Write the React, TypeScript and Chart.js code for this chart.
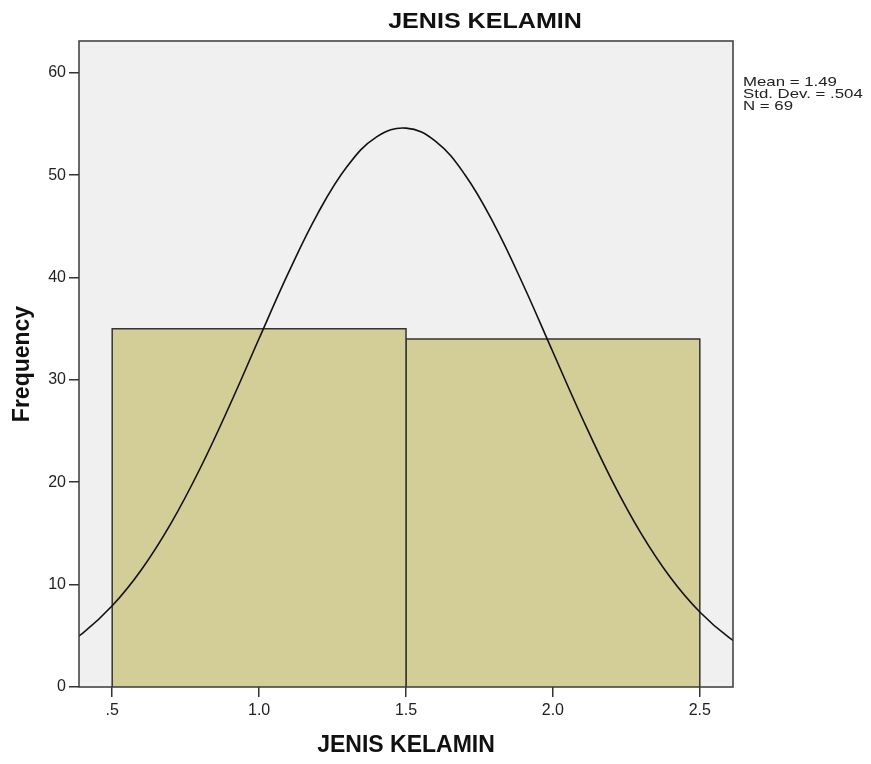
import React, { useEffect, useRef } from "react";
import { Chart, registerables } from "chart.js";

Chart.register(...registerables);

// ---- data ----
const binEdges = [0.5, 1.5, 2.5];
const binCounts = [35, 34];
const xTickValues = [0.5, 1.0, 1.5, 2.0, 2.5];
const xTickLabels = [".5", "1.0", "1.5", "2.0", "2.5"];
const yTickValues = [0, 10, 20, 30, 40, 50, 60];
const curveX = [0.3, 0.4, 0.5, 0.6, 0.7, 0.8, 0.9, 1.0, 1.1, 1.2, 1.3, 1.4, 1.5, 1.6, 1.7, 1.8, 1.9, 2.0, 2.1, 2.2, 2.3, 2.4, 2.5, 2.6, 2.7];
const curveY = [3.36, 5.27, 7.93, 11.48, 15.98, 21.39, 27.52, 34.04, 40.47, 46.27, 50.86, 53.74, 54.59, 53.31, 50.06, 45.19, 39.22, 32.72, 26.25, 20.24, 15.01, 10.7, 7.33, 4.83, 3.06];
const titleText = "JENIS KELAMIN";
const xTitle = "JENIS KELAMIN";
const yTitle = "Frequency";
const statsLines = ["Mean = 1.49", "Std. Dev. = .504", "N = 69"];

const FONT = "'Liberation Sans', Arial, sans-serif";

const decorPlugin = {
  id: "decor",
  beforeDatasetsDraw(chart: any) {
    const { ctx, chartArea: a } = chart;
    ctx.save();
    ctx.fillStyle = "#f0f0f0";
    ctx.fillRect(a.left, a.top, a.right - a.left, a.bottom - a.top);
    ctx.restore();
  },
  afterDraw(chart: any) {
    const { ctx, chartArea: a } = chart;
    ctx.save();
    ctx.strokeStyle = "#3a3a3a";
    ctx.lineWidth = 1.5;
    ctx.strokeRect(a.left, a.top, a.right - a.left, a.bottom - a.top);

    // title
    ctx.fillStyle = "#111";
    ctx.font = `bold 22px ${FONT}`;
    ctx.textBaseline = "alphabetic";
    ctx.textAlign = "center";
    ctx.save();
    ctx.translate(485, 28);
    ctx.scale(1.14, 1);
    ctx.fillText(titleText, 0, 0);
    ctx.restore();

    // stats
    ctx.fillStyle = "#222";
    ctx.font = `13.5px ${FONT}`;
    ctx.textAlign = "left";
    statsLines.forEach((t, i) => {
      ctx.save();
      ctx.translate(743, 85.5 + i * 12);
      ctx.scale(1.245, 1);
      ctx.fillText(t, 0, 0);
      ctx.restore();
    });
    ctx.restore();
  },
};

export default function App() {
  const ref = useRef<HTMLCanvasElement>(null);
  useEffect(() => {
    if (!ref.current) return;
    const barSets = binCounts.map((c, i) => ({
      type: "line" as const,
      data: [
        { x: binEdges[i], y: 0 },
        { x: binEdges[i], y: c },
        { x: binEdges[i + 1], y: c },
        { x: binEdges[i + 1], y: 0 },
      ],
      borderColor: "#333",
      borderWidth: 1.5,
      backgroundColor: "#d3ce98",
      fill: "origin",
      tension: 0,
      pointRadius: 0,
    }));
    const chart = new Chart(ref.current, {
      type: "line",
      data: {
        datasets: [
          {
            data: curveX.map((x, i) => ({ x, y: curveY[i] })),
            borderColor: "#111",
            borderWidth: 1.6,
            fill: false,
            tension: 0.4,
            pointRadius: 0,
          } as any,
          ...barSets,
        ],
      },
      options: {
        animation: false,
        responsive: false,
        layout: { padding: { top: 41, right: 138, left: 0, bottom: 0 } },
        plugins: { legend: { display: false }, tooltip: { enabled: false }, title: { display: false } },
        scales: {
          x: {
            type: "linear",
            min: 0.387,
            max: 2.613,
            afterBuildTicks: (s: any) => {
              s.ticks = xTickValues.map((v) => ({ value: v }));
            },
            afterFit: (s: any) => {
              s.height = 77;
            },
            ticks: {
              callback: (_v: any, i: number) => xTickLabels[i],
              color: "#222",
              font: { family: FONT, size: 16 },
              padding: 4,
              maxRotation: 0,
              autoSkip: false,
            },
            grid: { drawOnChartArea: false, tickLength: 10, color: "#333", lineWidth: 1.5 },
            border: { display: false },
            title: {
              display: true,
              text: xTitle,
              color: "#111",
              font: { family: FONT, size: 23, weight: "bold" },
              padding: { top: 0, bottom: 5 },
            },
          },
          y: {
            type: "linear",
            min: 0,
            max: 63.1,
            afterBuildTicks: (s: any) => {
              s.ticks = yTickValues.map((v) => ({ value: v }));
            },
            afterFit: (s: any) => {
              s.width = 79;
            },
            ticks: {
              color: "#222",
              font: { family: FONT, size: 16 },
              padding: 3,
              autoSkip: false,
            },
            grid: { drawOnChartArea: false, tickLength: 10, color: "#333", lineWidth: 1.5 },
            border: { display: false },
            title: {
              display: true,
              text: yTitle,
              color: "#111",
              font: { family: FONT, size: 23, weight: "bold" },
              padding: { top: 9, bottom: 0 },
            },
          },
        },
      } as any,
      plugins: [decorPlugin],
    });
    return () => chart.destroy();
  }, []);
  return (
    <div style={{ position: "absolute", left: 0, top: 0, width: 871, height: 764, background: "#fff" }}>
      <canvas ref={ref} width={871} height={764} style={{ width: 871, height: 764, display: "block" }} />
    </div>
  );
}
